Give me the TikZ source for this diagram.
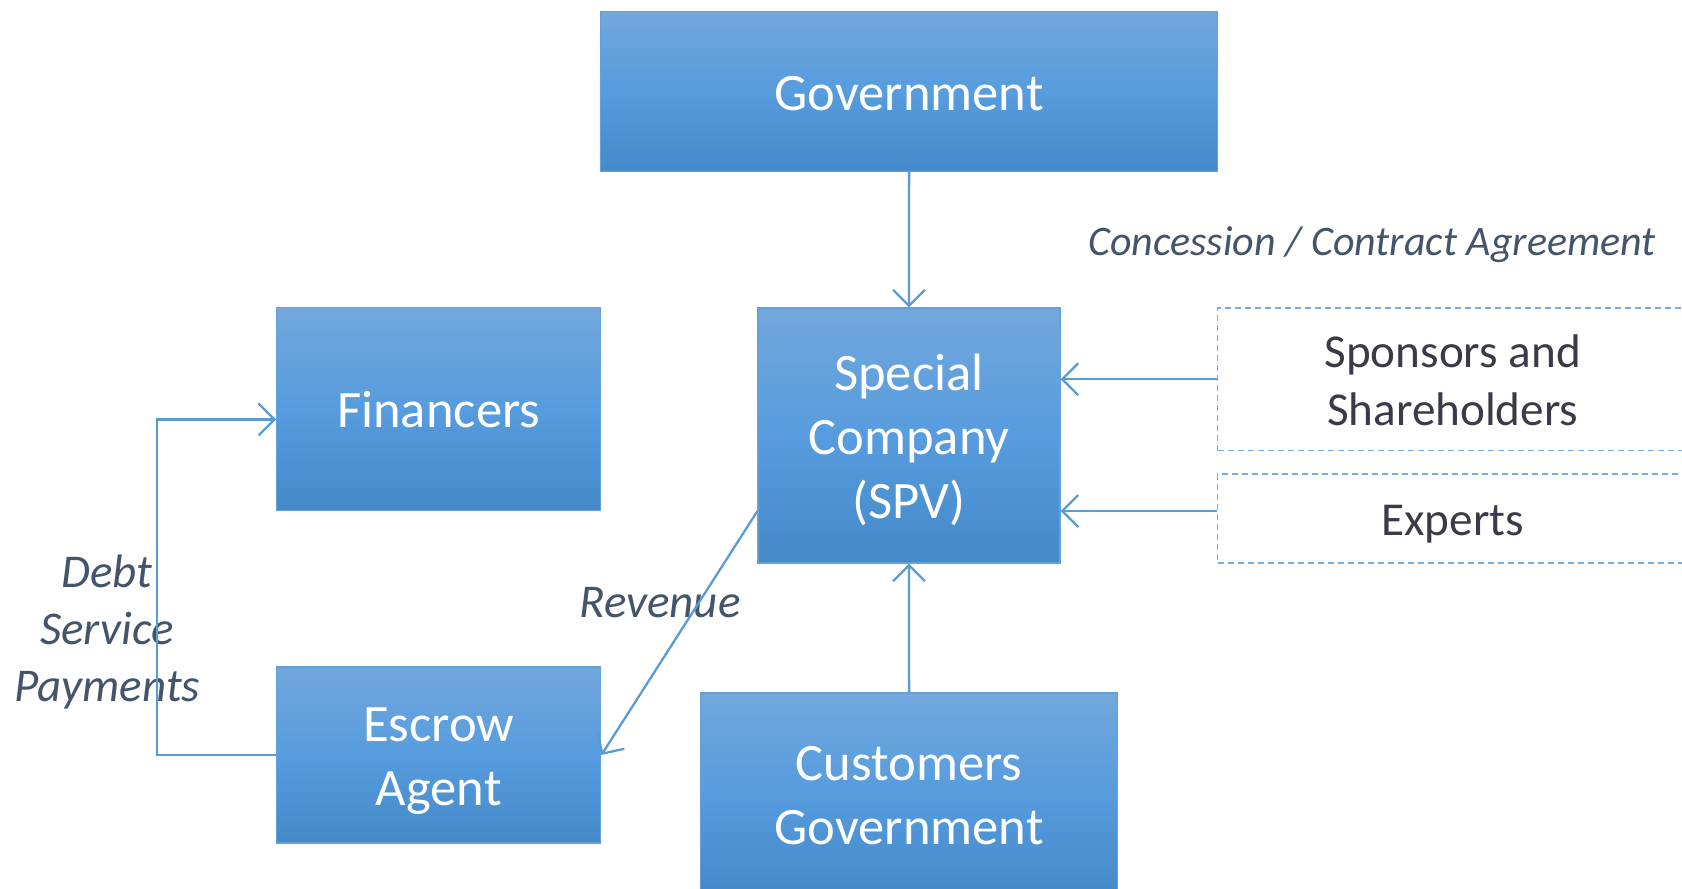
\documentclass[tikz,border=0pt]{standalone}
\usepackage{fontspec}
\setmainfont{Carlito}
\usetikzlibrary{arrows.meta,calc}
\definecolor{boxtop}{RGB}{114,167,220}
\definecolor{boxmid}{RGB}{86,156,222}
\definecolor{boxbot}{RGB}{68,137,200}
\definecolor{boxedge}{RGB}{100,160,218}
\definecolor{linkblue}{RGB}{91,155,213}
\definecolor{dashblue}{RGB}{120,172,224}
\definecolor{labelgray}{RGB}{68,84,106}
\definecolor{darktext}{RGB}{58,58,72}
\begin{document}
\begin{tikzpicture}[x=0.5pt,y=-0.5pt,
  bluebox/.style={rectangle, inner sep=0pt, top color=boxtop, bottom color=boxbot, middle color=boxmid, draw=boxedge, line width=0.6pt},
  whitetext/.style={inner sep=0pt, text=white, align=center, font=\fontsize{26.3}{32}\selectfont},
  dashbox/.style={rectangle, inner sep=0pt, draw=dashblue, dash pattern=on 3pt off 2pt, line width=0.7pt},
  darklabel/.style={inner sep=0pt, text=darktext, align=center, font=\fontsize{23.6}{28.6}\selectfont},
  lbl/.style={inner sep=0pt, text=labelgray, align=center, font=\fontsize{23.5}{28.7}\selectfont\itshape},
  link/.style={draw=linkblue, line width=1.15pt, -{Straight Barb[length=8pt,width=16pt]}}
]
\useasboundingbox (0,0) rectangle (1682,889);
\clip (0,0) rectangle (1682,889);

\node[bluebox, minimum width=308.4pt, minimum height=79.9pt] (gov) at (909.1,91.7) {};
\node[bluebox, minimum width=151pt, minimum height=127.5pt] (spv) at (909,435.5) {};
\node[bluebox, minimum width=162pt, minimum height=101.4pt] (fin) at (438.75,409.25) {};
\node[bluebox, minimum width=162pt, minimum height=88pt] (esc) at (438.75,755) {};
\node[bluebox, minimum width=208.7pt, minimum height=101pt] (cust) at (909.1,794) {};
\node[dashbox, minimum width=235.25pt, minimum height=71.25pt] (spons) at (1452.75,379.25) {};
\node[dashbox, minimum width=235.25pt, minimum height=44.5pt] (exp) at (1452.75,518.5) {};

\node[whitetext] (govtxt) at ([yshift=-1pt]gov.center) {Government};
\node[whitetext] (spvtxt) at ([yshift=-2.2pt]spv.center) {Special\\Company\\(SPV)};
\node[whitetext] (fintxt) at (fin.center) {Financers};
\node[whitetext] (esctxt) at ([yshift=-3pt]esc.center) {Escrow\\Agent};
\node[whitetext] (custtxt) at ([yshift=-0.6pt]cust.center) {Customers\\Government};
\node[darklabel] (sponstxt) at ([yshift=-0.5pt]spons.center) {Sponsors and\\Shareholders};
\node[darklabel] (exptxt) at ([yshift=-2.7pt]exp.center) {Experts};

\node[lbl, font=\fontsize{21}{25.6}\selectfont\itshape] (conc) at (1372,245) {Concession / Contract Agreement};
\node[lbl] (debt) at (107,632) {Debt\\Service\\Payments};
\node[lbl] (rev) at (660,603) {Revenue};

\coordinate (spvlowr) at ($(spv.south east)!0.205!(spv.north east)$);
\coordinate (spvlowl) at ($(spv.south west)!0.205!(spv.north west)$);
\coordinate (finin) at ($(fin.south west)!0.45!(fin.north west)$);

\draw[link] (gov.south) -- (spv.north);
\draw[link] (cust.north) -- (spv.south);
\draw[link] (spons.west) -- (spons.west -| spv.east);
\draw[link] (exp.west |- spvlowr) -- (spvlowr);
\draw[link] (spvlowl) -- (esc.east);
\draw[link] (esc.west) -- ++(-119,0) |- (finin);
\end{tikzpicture}
\end{document}
